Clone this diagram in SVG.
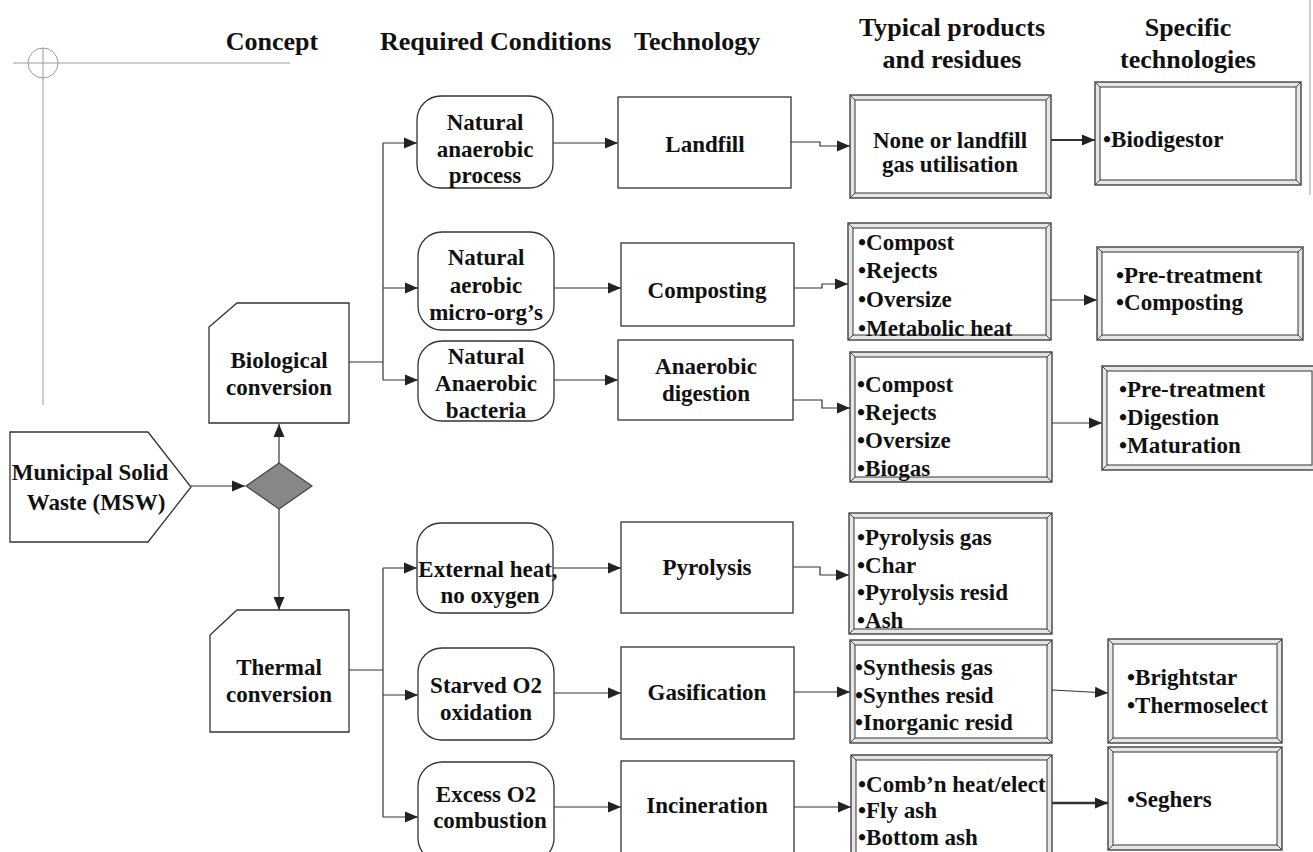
<svg xmlns="http://www.w3.org/2000/svg" width="1313" height="852" viewBox="0 0 1313 852">
<defs>
<marker id="ah" markerUnits="userSpaceOnUse" markerWidth="14" markerHeight="12" refX="13" refY="6" orient="auto">
<path d="M0,0.5 L13,6 L0,11.5 Z" fill="#222"/>
</marker>
<style>
text{font-family:"Liberation Serif","Times New Roman",serif;font-weight:bold;fill:#111}
.hd{font-size:26px}
.t{font-size:23px}
.c{text-anchor:middle}
.box{fill:#fff;stroke:#333;stroke-width:1.3}
.outer{fill:#e6e6e6;stroke:#333;stroke-width:1.3}
.inner{fill:#fff;stroke:#444;stroke-width:1.1}
.bev{stroke:#444;stroke-width:1}
.con{fill:none;stroke:#333;stroke-width:1.2}
.arr{fill:none;stroke:#333;stroke-width:1.2;marker-end:url(#ah)}
.guide{fill:none;stroke:#9a9a9a;stroke-width:1}
</style>
</defs>
<rect width="1313" height="852" fill="#fff"/>
<g id="guides">
<circle class="guide" cx="43" cy="63" r="15"/>
<path class="guide" d="M13,63 H290 M43,48 V405 M1310,0 V195"/>
</g>
<g id="headers">
<text class="hd c" x="272" y="50">Concept</text>
<text class="hd" x="380" y="50">Required Conditions</text>
<text class="hd" x="634" y="50">Technology</text>
<text class="hd c" x="952" y="36">Typical products</text>
<text class="hd c" x="952" y="68">and residues</text>
<text class="hd c" x="1188" y="36">Specific</text>
<text class="hd c" x="1188" y="68">technologies</text>
</g>
<g id="connectors">
<path class="arr" d="M191,486 H245"/>
<path class="arr" d="M279,463 V424"/>
<path class="arr" d="M279,509 V610"/>
<path class="con" d="M349,362 H383 M383,143 V380"/>
<path class="arr" d="M383,143 H417"/>
<path class="arr" d="M383,288 H418"/>
<path class="arr" d="M383,380 H418"/>
<path class="con" d="M349,670 H383 M383,568 V817"/>
<path class="arr" d="M383,568 H417"/>
<path class="arr" d="M383,695 H418"/>
<path class="arr" d="M383,817 H418"/>
<path class="arr" d="M553,143 H618"/>
<path class="arr" d="M554,288 H621"/>
<path class="arr" d="M554,380 H618"/>
<path class="arr" d="M553,568 H621"/>
<path class="arr" d="M554,693 H621"/>
<path class="arr" d="M554,807 H621"/>
<path class="arr" d="M791,142 H820 V146 H850"/>
<path class="arr" d="M794,288 H822 V284 H848"/>
<path class="arr" d="M793,400 H822 V408 H850"/>
<path class="arr" d="M793,567 H820 V575 H849"/>
<path class="arr" d="M794,692 H850"/>
<path class="arr" d="M794,807 H851"/>
<path class="arr" d="M1051,140 H1095" style="stroke-width:2"/>
<path class="arr" d="M1051,300 H1097"/>
<path class="arr" d="M1052,423 H1102"/>
<path class="arr" d="M1052,690 L1108,693"/>
<path class="arr" d="M1052,803 H1108" style="stroke-width:2.5"/>
</g>
<g id="msw">
<path class="box" d="M10,432 H148 L191,487 L148,542 H10 Z"/>
<text class="t c" x="90" y="480">Municipal Solid</text>
<text class="t c" x="96" y="510">Waste (MSW)</text>
</g>
<g id="decision">
<path d="M279,463 L312,486 L279,509 L246,486 Z" fill="#878787" stroke="#444" stroke-width="1.2"/>
</g>
<g id="biological">
<path class="box" d="M237,303 H349 V423 H209 V327 Z"/>
<text class="t c" x="279" y="368">Biological</text>
<text class="t c" x="279" y="395">conversion</text>
</g>
<g id="thermal">
<path class="box" d="M237,610 H349 V732 H210 V635 Z"/>
<text class="t c" x="279" y="675">Thermal</text>
<text class="t c" x="279" y="702">conversion</text>
</g>
<g id="cond-anaerobic-process">
<rect class="box" x="417" y="96" width="136" height="92" rx="24"/>
<text class="t c" x="485" y="130">Natural</text>
<text class="t c" x="485" y="157">anaerobic</text>
<text class="t c" x="485" y="183">process</text>
</g>
<g id="cond-aerobic">
<rect class="box" x="418" y="232" width="136" height="98" rx="24"/>
<text class="t c" x="486" y="265">Natural</text>
<text class="t c" x="486" y="293">aerobic</text>
<text class="t c" x="486" y="320">micro-org’s</text>
</g>
<g id="cond-anaerobic-bacteria">
<rect class="box" x="418" y="341" width="136" height="80" rx="24"/>
<text class="t c" x="486" y="364">Natural</text>
<text class="t c" x="486" y="391">Anaerobic</text>
<text class="t c" x="486" y="418">bacteria</text>
</g>
<g id="cond-external-heat">
<rect class="box" x="417" y="523" width="136" height="90" rx="24"/>
<text class="t c" x="488" y="577">External heat,</text>
<text class="t c" x="490" y="603">no oxygen</text>
</g>
<g id="cond-starved">
<rect class="box" x="418" y="648" width="136" height="92" rx="24"/>
<text class="t c" x="486" y="693">Starved O2</text>
<text class="t c" x="486" y="720">oxidation</text>
</g>
<g id="cond-excess">
<rect class="box" x="418" y="762" width="136" height="100" rx="24"/>
<text class="t c" x="486" y="802">Excess O2</text>
<text class="t c" x="490" y="828">combustion</text>
</g>
<g id="tech-landfill">
<rect class="box" x="618" y="97" width="173" height="91"/>
<text class="t c" x="705" y="152">Landfill</text>
</g>
<g id="tech-composting">
<rect class="box" x="621" y="243" width="173" height="83"/>
<text class="t c" x="707" y="298">Composting</text>
</g>
<g id="tech-ad">
<rect class="box" x="618" y="340" width="175" height="80"/>
<text class="t c" x="706" y="374">Anaerobic</text>
<text class="t c" x="706" y="401">digestion</text>
</g>
<g id="tech-pyrolysis">
<rect class="box" x="621" y="522" width="172" height="91"/>
<text class="t c" x="707" y="575">Pyrolysis</text>
</g>
<g id="tech-gasification">
<rect class="box" x="621" y="647" width="173" height="92"/>
<text class="t c" x="707" y="700">Gasification</text>
</g>
<g id="tech-incineration">
<rect class="box" x="621" y="761" width="173" height="100"/>
<text class="t c" x="707" y="813">Incineration</text>
</g>
<g id="prod-landfill">
<rect class="outer" x="850" y="95" width="201" height="103"/>
<rect class="inner" x="855" y="100" width="191" height="93"/>
<path class="bev" d="M850,95 L855,100 M1051,95 L1046,100 M850,198 L855,193 M1051,198 L1046,193"/>
<text class="t c" x="950" y="148">None or landfill</text>
<text class="t c" x="950" y="172">gas utilisation</text>
</g>
<g id="prod-composting">
<rect class="outer" x="848" y="223" width="203" height="117"/>
<rect class="inner" x="853" y="228" width="193" height="107"/>
<path class="bev" d="M848,223 L853,228 M1051,223 L1046,228 M848,340 L853,335 M1051,340 L1046,335"/>
<text class="t" x="858" y="250">•Compost</text>
<text class="t" x="858" y="278">•Rejects</text>
<text class="t" x="858" y="307">•Oversize</text>
<text class="t" x="858" y="336">•Metabolic heat</text>
</g>
<g id="prod-ad">
<rect class="outer" x="850" y="352" width="202" height="130"/>
<rect class="inner" x="855" y="357" width="192" height="120"/>
<path class="bev" d="M850,352 L855,357 M1052,352 L1047,357 M850,482 L855,477 M1052,482 L1047,477"/>
<text class="t" x="857" y="392">•Compost</text>
<text class="t" x="857" y="420">•Rejects</text>
<text class="t" x="857" y="448">•Oversize</text>
<text class="t" x="857" y="476">•Biogas</text>
</g>
<g id="prod-pyrolysis">
<rect class="outer" x="849" y="513" width="203" height="121"/>
<rect class="inner" x="854" y="518" width="193" height="111"/>
<path class="bev" d="M849,513 L854,518 M1052,513 L1047,518 M849,634 L854,629 M1052,634 L1047,629"/>
<text class="t" x="857" y="545">•Pyrolysis gas</text>
<text class="t" x="857" y="573">•Char</text>
<text class="t" x="857" y="600">•Pyrolysis resid</text>
<text class="t" x="857" y="628">•Ash</text>
</g>
<g id="prod-gasification">
<rect class="outer" x="850" y="640" width="202" height="103"/>
<rect class="inner" x="855" y="645" width="192" height="93"/>
<path class="bev" d="M850,640 L855,645 M1052,640 L1047,645 M850,743 L855,738 M1052,743 L1047,738"/>
<text class="t" x="855" y="675">•Synthesis gas</text>
<text class="t" x="855" y="703">•Synthes resid</text>
<text class="t" x="855" y="730">•Inorganic resid</text>
</g>
<g id="prod-incineration">
<rect class="outer" x="851" y="755" width="201" height="112"/>
<rect class="inner" x="856" y="760" width="191" height="102"/>
<path class="bev" d="M851,755 L856,760 M1052,755 L1047,760"/>
<text class="t" x="858" y="792">•Comb’n heat/elect</text>
<text class="t" x="858" y="818">•Fly ash</text>
<text class="t" x="858" y="845">•Bottom ash</text>
</g>
<g id="spec-biodigestor">
<rect class="outer" x="1095" y="82" width="206" height="103"/>
<rect class="inner" x="1100" y="87" width="196" height="93"/>
<path class="bev" d="M1095,82 L1100,87 M1301,82 L1296,87 M1095,185 L1100,180 M1301,185 L1296,180"/>
<text class="t" x="1103" y="147">•Biodigestor</text>
</g>
<g id="spec-composting">
<rect class="outer" x="1097" y="247" width="206" height="93"/>
<rect class="inner" x="1102" y="252" width="196" height="83"/>
<path class="bev" d="M1097,247 L1102,252 M1303,247 L1298,252 M1097,340 L1102,335 M1303,340 L1298,335"/>
<text class="t" x="1116" y="283">•Pre-treatment</text>
<text class="t" x="1116" y="310">•Composting</text>
</g>
<g id="spec-ad">
<rect class="outer" x="1102" y="366" width="215" height="104"/>
<rect class="inner" x="1107" y="371" width="205" height="94"/>
<path class="bev" d="M1102,366 L1107,371 M1102,470 L1107,465"/>
<text class="t" x="1119" y="397">•Pre-treatment</text>
<text class="t" x="1119" y="425">•Digestion</text>
<text class="t" x="1119" y="453">•Maturation</text>
</g>
<g id="spec-gasification">
<rect class="outer" x="1108" y="639" width="174" height="104"/>
<rect class="inner" x="1113" y="644" width="164" height="94"/>
<path class="bev" d="M1108,639 L1113,644 M1282,639 L1277,644 M1108,743 L1113,738 M1282,743 L1277,738"/>
<text class="t" x="1127" y="685">•Brightstar</text>
<text class="t" x="1127" y="713">•Thermoselect</text>
</g>
<g id="spec-incineration">
<rect class="outer" x="1108" y="747" width="174" height="103"/>
<rect class="inner" x="1113" y="752" width="164" height="93"/>
<path class="bev" d="M1108,747 L1113,752 M1282,747 L1277,752 M1108,850 L1113,845 M1282,850 L1277,845"/>
<text class="t" x="1127" y="807">•Seghers</text>
</g>
</svg>
